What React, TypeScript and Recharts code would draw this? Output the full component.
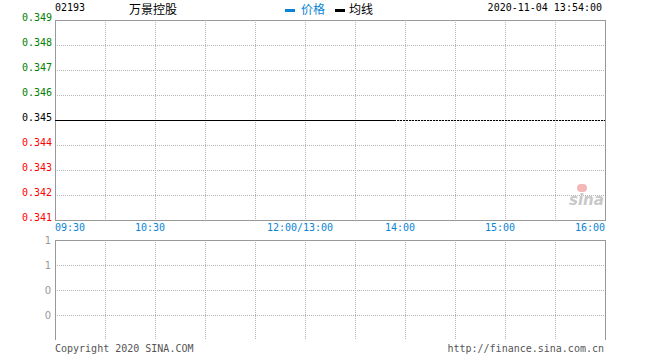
import React from "react";
import { BarChart, Bar, CartesianGrid, Line, LineChart, ReferenceArea, ReferenceLine, XAxis, YAxis } from "recharts";

// minutes since 09:30 open (lunch break removed), last point = 13:54
const minutes = [0, 30, 60, 90, 120, 150, 180, 204];
const prices = [0.345, 0.345, 0.345, 0.345, 0.345, 0.345, 0.345, 0.345];
const avgPrices = [0.345, 0.345, 0.345, 0.345, 0.345, 0.345, 0.345, 0.345];
const volumes = [0, 0, 0, 0, 0, 0, 0, 0];

const prevClose = 0.345;
const priceTicks = [0.341, 0.342, 0.343, 0.344, 0.345, 0.346, 0.347, 0.348, 0.349];
const pctTicks = [-1.16, -0.87, -0.58, -0.29, 0, 0.29, 0.58, 0.87, 1.16];
const gridMinutes = [0, 30, 60, 90, 120, 150, 180, 210, 240, 270, 300, 330];
const timeTickMinutes = [0, 60, 150, 210, 270, 330];
const timeTickLabels = ["09:30", "10:30", "12:00/13:00", "14:00", "15:00", "16:00"];
const volTicks = [1, 0.75, 0.5, 0.25];
const volTickLabels = ["1", "1", "0", "0"];

const data = minutes.map((t, i) => ({ t, price: prices[i], avg: avgPrices[i] }));
const volData = minutes.map((t, i) => ({ t, vol: volumes[i] }));

const MONO = "'DejaVu Sans Mono', monospace";
const CJK = "'Noto Sans CJK SC', sans-serif";
const GREEN = "#008000";
const RED = "#ff0000";
const BLUE = "#0a84d6";
const GRID = "#b4b4b4";
const BORDER = "#999";

const priceColor = (v: number) => (v > prevClose + 1e-9 ? GREEN : v < prevClose - 1e-9 ? RED : "#000");
const pctColor = (v: number) => (v > 0 ? GREEN : v < 0 ? RED : "#000");

const LeftTick = (props: any) => {
    const v = props.payload.value;
    return (
        <text x={52} y={props.y + 1} textAnchor="end" fontFamily={MONO} fontSize={10} fill={priceColor(v)}>
            {v.toFixed(3)}
        </text>
    );
};

const RightTick = (props: any) => {
    const v = props.payload.value;
    const s = (v > 0 ? "+" : "") + v.toFixed(2) + "%";
    return (
        <text x={642} y={props.y + 1} textAnchor="end" fontFamily={MONO} fontSize={10} fill={pctColor(v)}>
            {s}
        </text>
    );
};

const TimeTick = (props: any) => {
    const idx = timeTickMinutes.indexOf(props.payload.value);
    if (idx < 0) return <g />;
    const last = idx === timeTickMinutes.length - 1;
    const anchor = idx === 0 ? "start" : last ? "end" : "middle";
    const x = idx === 0 ? props.x : last ? props.x : props.x - 5;
    return (
        <text x={x} y={231} textAnchor={anchor} fontFamily={MONO} fontSize={10} fill={BLUE}>
            {timeTickLabels[idx]}
        </text>
    );
};

const VolTick = (props: any) => {
    const idx = volTicks.indexOf(props.payload.value);
    return (
        <text x={51} y={props.y + 4} textAnchor="end" fontFamily="'DejaVu Sans', sans-serif" fontSize={10} fill="#999">
            {idx >= 0 ? volTickLabels[idx] : ""}
        </text>
    );
};

export default function App() {
    return (
        <div style={{ position: "fixed", left: 0, top: 0, width: 660, height: 360, background: "#fff", overflow: "hidden" }}>
            {/* header */}
            <div style={{ position: "absolute", left: 55, top: 2, fontFamily: MONO, fontSize: 10, color: "#000" }}>02193</div>
            <div style={{ position: "absolute", left: 129, top: 1, fontFamily: CJK, fontSize: 12, color: "#000", lineHeight: "16px" }}>万景控股</div>
            <div style={{ position: "absolute", left: 285, top: 9, width: 10, height: 3, background: BLUE }} />
            <div style={{ position: "absolute", left: 301, top: 1, fontFamily: CJK, fontSize: 12, color: BLUE, lineHeight: "16px" }}>价格</div>
            <div style={{ position: "absolute", left: 335, top: 9, width: 10, height: 3, background: "#000" }} />
            <div style={{ position: "absolute", left: 349, top: 1, fontFamily: CJK, fontSize: 12, color: "#000", lineHeight: "16px" }}>均线</div>
            <div style={{ position: "absolute", right: 58, top: 2, fontFamily: MONO, fontSize: 10, color: "#000" }}>2020-11-04 13:54:00</div>

            <div style={{ position: "absolute", left: 0, top: 0 }}>
                <LineChart width={660} height={240} data={data} margin={{ top: 20, right: 0, bottom: 0, left: 0 }} style={{ shapeRendering: "crispEdges" }}>
                    <CartesianGrid yAxisId="left" stroke={GRID} strokeDasharray="1 1" />
                    <XAxis
                        dataKey="t"
                        type="number"
                        domain={[0, 330]}
                        ticks={gridMinutes}
                        interval={0}
                        height={20}
                        tickLine={false}
                        axisLine={false}
                        tick={TimeTick}
                    />
                    <YAxis
                        yAxisId="left"
                        orientation="left"
                        width={55}
                        domain={[0.341, 0.349]}
                        ticks={priceTicks}
                        interval={0}
                        tickLine={false}
                        axisLine={false}
                        tick={LeftTick}
                    />
                    <YAxis
                        yAxisId="right"
                        orientation="right"
                        width={55}
                        domain={[-1.16, 1.16]}
                        ticks={pctTicks}
                        interval={0}
                        tickLine={false}
                        axisLine={false}
                        tick={RightTick}
                    />
                    <ReferenceLine yAxisId="left" y={prevClose} stroke="#000" strokeDasharray="2 1" />
                    <ReferenceArea yAxisId="left" x1={0} x2={330} y1={0.341} y2={0.349} fill="none" stroke={BORDER} strokeWidth={1} />
                    <Line yAxisId="left" dataKey="price" stroke={BLUE} strokeWidth={1} dot={false} isAnimationActive={false} />
                    <Line yAxisId="left" dataKey="avg" stroke="#000" strokeWidth={1} dot={false} isAnimationActive={false} />
                </LineChart>
            </div>

            {/* sina watermark */}
            <div style={{ position: "absolute", left: 577, top: 184, width: 10, height: 8, borderRadius: 5, background: "#f4b8b8" }} />
            <div style={{ position: "absolute", left: 569, top: 191, fontFamily: "'DejaVu Sans', sans-serif", fontSize: 15, fontStyle: "italic", fontWeight: "bold", color: "#c8c8c8" }}>sina</div>

            <div style={{ position: "absolute", left: 0, top: 230 }}>
                <BarChart width={660} height={110} data={volData} margin={{ top: 10, right: 55, bottom: 0, left: 0 }} style={{ shapeRendering: "crispEdges" }}>
                    <CartesianGrid stroke={GRID} strokeDasharray="1 1" />
                    <XAxis dataKey="t" type="number" domain={[0, 330]} ticks={gridMinutes} interval={0} hide />
                    <YAxis
                        width={55}
                        domain={[0, 1]}
                        ticks={volTicks}
                        interval={0}
                        tickLine={false}
                        axisLine={false}
                        tick={VolTick}
                    />
                    <ReferenceArea x1={0} x2={330} y1={0} y2={1} fill="none" stroke={BORDER} strokeWidth={1} />
                    <Bar dataKey="vol" fill={BLUE} isAnimationActive={false} />
                </BarChart>
            </div>

            {/* footer */}
            <div style={{ position: "absolute", left: 55, top: 343, fontFamily: MONO, fontSize: 10, color: "#555" }}>Copyright 2020 SINA.COM</div>
            <div style={{ position: "absolute", right: 56, top: 343, fontFamily: MONO, fontSize: 10, color: "#555" }}>http://finance.sina.com.cn</div>
        </div>
    );
}
